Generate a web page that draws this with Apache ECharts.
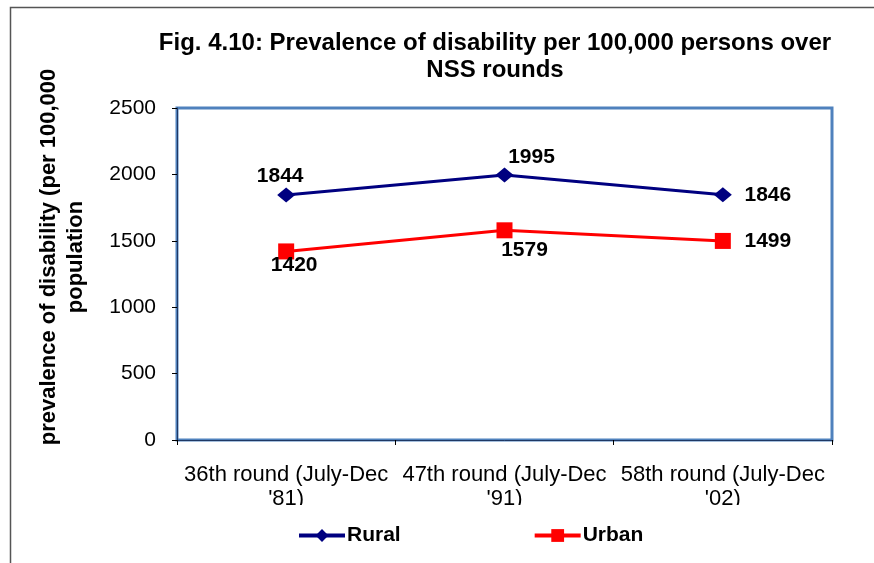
<!DOCTYPE html>
<html><head><meta charset="utf-8">
<script src="https://cdn.jsdelivr.net/npm/echarts@6/dist/echarts.min.js"></script>
<style>html,body{margin:0;padding:0;background:#fff}#c{width:874px;height:563px}</style>
</head><body><div id="c"></div>
<script>
const categories = ["36th round (July-Dec\n'81)", "47th round (July-Dec\n'91)", "58th round (July-Dec\n'02)"];
const rural = [1844, 1995, 1846];
const urban = [1420, 1579, 1499];
const yTicks = [0, 500, 1000, 1500, 2000, 2500];

const F = 'Liberation Sans, Arial, sans-serif';
const chart = echarts.init(document.getElementById('c'));
const ruralPos = [[-6, -19], [27, -18], [45, 0]];
const urbanPos = [[8, 14], [20, 20], [45, 0]];
chart.setOption({
  animation: false,
  title: {
    text: 'Fig. 4.10: Prevalence of disability per 100,000 persons over\nNSS rounds',
    left: 490, top: 25, textAlign: 'center',
    textStyle: { fontFamily: F, fontSize: 24, fontWeight: 'bold', color: '#000', lineHeight: 27 }
  },
  grid: { left: 177, top: 108, width: 655, height: 332, show: true, borderColor: '#4F81BD', borderWidth: 3, backgroundColor: 'transparent' },
  legend: {
    top: 520, left: 292, itemGap: 132, itemWidth: 46, itemHeight: 16,
    lineStyle: { width: 4 },
    textStyle: { fontFamily: F, fontSize: 21, fontWeight: 'bold', color: '#000', padding: [0, 0, 0, -3] },
    data: ['Rural', 'Urban']
  },
  xAxis: {
    type: 'category', data: categories, boundaryGap: true,
    axisLine: { lineStyle: { color: '#1F3864', width: 1 } },
    axisTick: { show: true, length: 5, lineStyle: { color: '#000' } },
    axisLabel: { fontFamily: F, fontSize: 22, color: '#000', margin: 23, lineHeight: 24, interval: 0 }
  },
  yAxis: {
    type: 'value', min: yTicks[0], max: yTicks[yTicks.length - 1], interval: 500,
    name: 'prevalence of disability (per 100,000\npopulation',
    nameLocation: 'middle', nameGap: 88, nameRotate: 90,
    nameTextStyle: { fontFamily: F, fontSize: 22, fontWeight: 'bold', color: '#000', lineHeight: 27, padding: [0, 0, 0, 34] },
    axisLine: { show: true, lineStyle: { color: '#1F3864', width: 1 } },
    axisTick: { show: true, length: 5, lineStyle: { color: '#000' } },
    splitLine: { show: false },
    axisLabel: { fontFamily: F, fontSize: 21, color: '#000', margin: 21, formatter: v => String(v) }
  },
  graphic: [
    { type: 'rect', left: 8, top: 5, shape: { width: 900, height: 600 }, style: { fill: 'none', stroke: '#555', lineWidth: 1.5 }, silent: true },
    { type: 'rect', left: 150, top: 505, shape: { width: 700, height: 12 }, style: { fill: '#fff' }, z: 100, silent: true }
  ],
  series: [
    {
      name: 'Rural', type: 'line', data: rural.map((v, i) => ({ value: v, label: { offset: ruralPos[i] } })),
      color: '#000080', lineStyle: { width: 3, color: '#000080' },
      symbol: 'diamond', symbolSize: [18, 15], itemStyle: { color: '#000080' },
      label: { show: true, position: 'inside', fontFamily: F, fontSize: 21, fontWeight: 'bold', color: '#000' }
    },
    {
      name: 'Urban', type: 'line', data: urban.map((v, i) => ({ value: v, label: { offset: urbanPos[i] } })),
      color: '#FF0000', lineStyle: { width: 3, color: '#FF0000' },
      symbol: 'rect', symbolSize: 16, itemStyle: { color: '#FF0000' },
      label: { show: true, position: 'inside', fontFamily: F, fontSize: 21, fontWeight: 'bold', color: '#000' }
    }
  ]
});
</script></body></html>
